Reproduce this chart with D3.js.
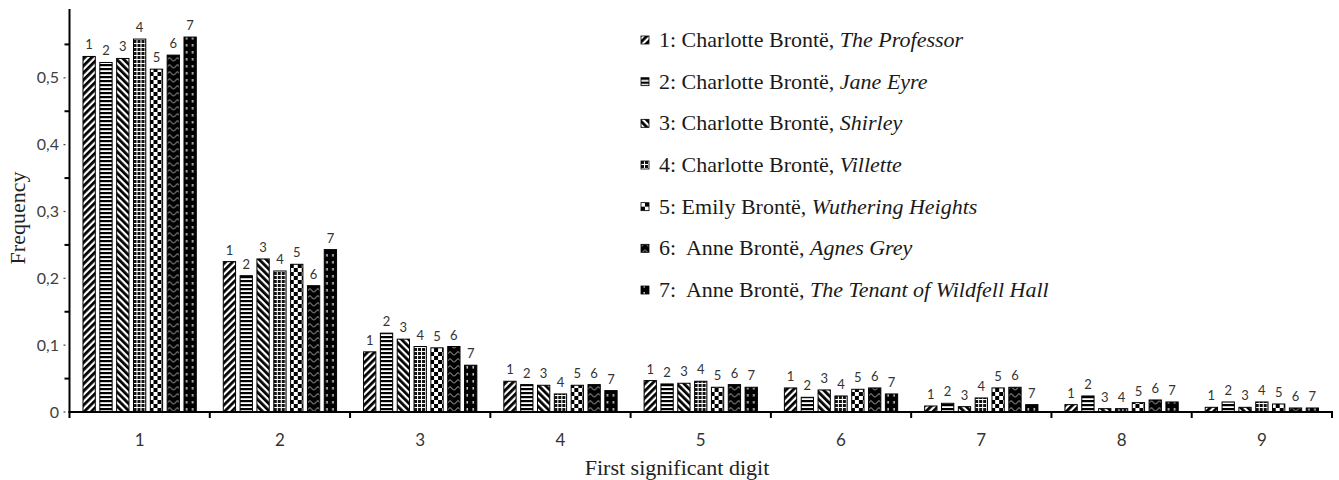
<!DOCTYPE html>
<html>
<head>
<meta charset="utf-8">
<script src="https://cdn.jsdelivr.net/npm/d3@7"></script>
<style>
  html, body { margin: 0; padding: 0; background: #fff; }
  svg { display: block; }
  .serif { font-family: "Liberation Serif", "DejaVu Serif", serif; }
  .sans { font-family: Lato, "Open Sans", sans-serif; }
</style>
</head>
<body>
<svg id="chart" width="1339" height="480"></svg>
<script>
// First-digit frequencies for seven Brontë novels
const digits = ["1", "2", "3", "4", "5", "6", "7", "8", "9"];
const seriesIds = ["1", "2", "3", "4", "5", "6", "7"];

const theProfessor  = [0.532, 0.225, 0.090, 0.046, 0.047, 0.036, 0.009, 0.011, 0.007];
const janeEyre      = [0.523, 0.204, 0.118, 0.041, 0.042, 0.022, 0.013, 0.024, 0.015];
const shirley       = [0.529, 0.229, 0.109, 0.040, 0.043, 0.033, 0.008, 0.005, 0.007];
const villette      = [0.558, 0.211, 0.098, 0.027, 0.046, 0.024, 0.021, 0.005, 0.015];
const wuthering     = [0.513, 0.221, 0.096, 0.040, 0.037, 0.034, 0.036, 0.014, 0.012];
const agnesGrey     = [0.534, 0.189, 0.098, 0.041, 0.041, 0.036, 0.037, 0.018, 0.006];
const wildfellHall  = [0.561, 0.243, 0.070, 0.032, 0.037, 0.027, 0.011, 0.015, 0.006];

const yTickValues = [0, 0.1, 0.2, 0.3, 0.4, 0.5];
const yTickLabels = ["0", "0,1", "0,2", "0,3", "0,4", "0,5"];

const legendAuthors = ["1: Charlotte Brontë, ", "2: Charlotte Brontë, ", "3: Charlotte Brontë, ",
  "4: Charlotte Brontë, ", "5: Emily Brontë, ", "6:  Anne Brontë, ", "7:  Anne Brontë, "];
const legendTitles = ["The Professor", "Jane Eyre", "Shirley", "Villette",
  "Wuthering Heights", "Agnes Grey", "The Tenant of Wildfell Hall"];

const seriesValues = [theProfessor, janeEyre, shirley, villette, wuthering, agnesGrey, wildfellHall];

const svg = d3.select("#chart");
const x0 = 69.5, x1 = 1332, yZero = 412, yTop = 11;

const x = d3.scaleBand().domain(digits).range([x0, x1]).padding(0);
const inner = d3.scaleBand().domain(seriesIds)
  .range([13.5, x.bandwidth() - 13.5]).paddingInner(0.27).paddingOuter(0);
const y = d3.scaleLinear().domain([0, 0.6]).range([yZero, yTop]);

// Fill patterns, one per novel
const defs = svg.append("defs");
function pat(id, w, h, transform) {
  const p = defs.append("pattern").attr("id", id)
    .attr("patternUnits", "userSpaceOnUse").attr("width", w).attr("height", h);
  if (transform) p.attr("patternTransform", transform);
  p.append("rect").attr("width", w).attr("height", h).attr("fill", "#fff");
  return p;
}
// 1: forward diagonal stripes
pat("p1", 5, 5, "rotate(45)").append("rect").attr("width", 2.8).attr("height", 5).attr("fill", "#000");
// 2: horizontal stripes
pat("p2", 4, 4).append("rect").attr("width", 4).attr("height", 2.2).attr("fill", "#000");
// 3: backward diagonal stripes
pat("p3", 5, 5, "rotate(-45)").append("rect").attr("width", 2.8).attr("height", 5).attr("fill", "#000");
// 4: small grid
pat("p4", 4, 4).append("rect").attr("width", 3).attr("height", 3).attr("fill", "#111");
// 5: checkerboard
{
  const p = pat("p5", 8, 8);
  p.append("rect").attr("x", 0).attr("y", 0).attr("width", 4).attr("height", 4).attr("fill", "#000");
  p.append("rect").attr("x", 4).attr("y", 4).attr("width", 4).attr("height", 4).attr("fill", "#000");
}
// 6: black with light zigzag
{
  const p = pat("p6", 8, 7);
  p.select("rect").attr("fill", "#000");
  p.append("path").attr("d", "M0,5.5 L4,1.5 L8,5.5").attr("fill", "none")
    .attr("stroke", "#bbb").attr("stroke-width", 1);
}
// 7: black with small dashes
{
  const p = pat("p7", 6, 7);
  p.select("rect").attr("fill", "#000");
  p.append("rect").attr("x", 2.5).attr("y", 2).attr("width", 1.4).attr("height", 2.6).attr("fill", "#ddd");
}

// Bars
const groups = svg.append("g").selectAll("g")
  .data(digits).join("g")
  .attr("transform", d => `translate(${x(d)},0)`);

groups.selectAll("rect")
  .data((d, i) => seriesIds.map((s, k) => ({ s, k, v: seriesValues[k][i] })))
  .join("rect")
  .attr("x", d => inner(d.s))
  .attr("y", d => y(d.v))
  .attr("width", inner.bandwidth())
  .attr("height", d => yZero - y(d.v))
  .attr("fill", d => `url(#p${d.k + 1})`)
  .attr("stroke", "#000")
  .attr("stroke-width", 1);

groups.selectAll("text")
  .data((d, i) => seriesIds.map((s, k) => ({ s, v: seriesValues[k][i] })))
  .join("text")
  .attr("class", "sans")
  .attr("x", d => inner(d.s) + inner.bandwidth() / 2)
  .attr("y", d => y(d.v) - 7)
  .attr("text-anchor", "middle")
  .attr("font-size", 13)
  .attr("fill", "#333")
  .text(d => d.s);

// Y axis
const yAxis = svg.append("g");
yAxis.append("line").attr("x1", x0).attr("x2", x0).attr("y1", yTop - 2).attr("y2", yZero + 1)
  .attr("stroke", "#000").attr("stroke-width", 2);
// long ticks between labelled values
const halfTicks = d3.range(0.05, 0.6, 0.1);
yAxis.selectAll(".ht").data(halfTicks).join("line")
  .attr("x1", x0 - 5).attr("x2", x0).attr("y1", d => y(d)).attr("y2", d => y(d))
  .attr("stroke", "#000").attr("stroke-width", 2);
// small dots at labelled values
yAxis.selectAll(".dt").data(yTickValues).join("line")
  .attr("x1", x0 - 6).attr("x2", x0 - 4).attr("y1", d => y(d)).attr("y2", d => y(d))
  .attr("stroke", "#444").attr("stroke-width", 1.2);
yAxis.selectAll("text").data(yTickValues).join("text")
  .attr("class", "sans")
  .attr("x", 59).attr("y", d => y(d)).attr("dy", "0.35em")
  .attr("text-anchor", "end")
  .attr("font-size", 16).attr("fill", "#404040")
  .text((d, i) => yTickLabels[i]);

// X axis
const xAxis = svg.append("g");
xAxis.append("line").attr("x1", x0 - 1).attr("x2", x1 + 1).attr("y1", yZero).attr("y2", yZero)
  .attr("stroke", "#000").attr("stroke-width", 2);
const bounds = digits.map(d => x(d)).concat([x1]);
xAxis.selectAll(".xt").data(bounds).join("line")
  .attr("x1", d => d).attr("x2", d => d).attr("y1", yZero).attr("y2", yZero + 6)
  .attr("stroke", "#000").attr("stroke-width", 2);
xAxis.selectAll("text").data(digits).join("text")
  .attr("class", "sans")
  .attr("x", d => x(d) + x.bandwidth() / 2).attr("y", 446)
  .attr("text-anchor", "middle")
  .attr("font-size", 17).attr("fill", "#333")
  .text(d => d);

// Axis titles
svg.append("text")
  .attr("class", "serif")
  .attr("x", 677).attr("y", 475).attr("text-anchor", "middle")
  .attr("font-size", 22).attr("fill", "#222")
  .text("First significant digit");
svg.append("text")
  .attr("class", "serif")
  .attr("transform", "translate(25,218) rotate(-90)").attr("text-anchor", "middle")
  .attr("font-size", 22).attr("fill", "#222")
  .text("Frequency");

// Legend
const legend = svg.append("g");
const rowY = d3.scaleLinear().domain([0, 6]).range([40, 290]);
const rows = legend.selectAll("g").data(seriesIds).join("g")
  .attr("transform", (d, i) => `translate(641,${rowY(i)})`);
rows.append("rect").attr("x", 0).attr("y", -4).attr("width", 8).attr("height", 8)
  .attr("fill", (d, i) => `url(#p${i + 1})`).attr("stroke", "#000").attr("stroke-width", 0.8);
const lt = rows.append("text").attr("class", "serif").attr("x", 18).attr("y", 7)
  .attr("font-size", 22).attr("fill", "#1a1a1a")
  .style("white-space", "pre");
lt.append("tspan").text((d, i) => legendAuthors[i]);
lt.append("tspan").attr("font-style", "italic").text((d, i) => legendTitles[i]);
</script>
</body>
</html>
